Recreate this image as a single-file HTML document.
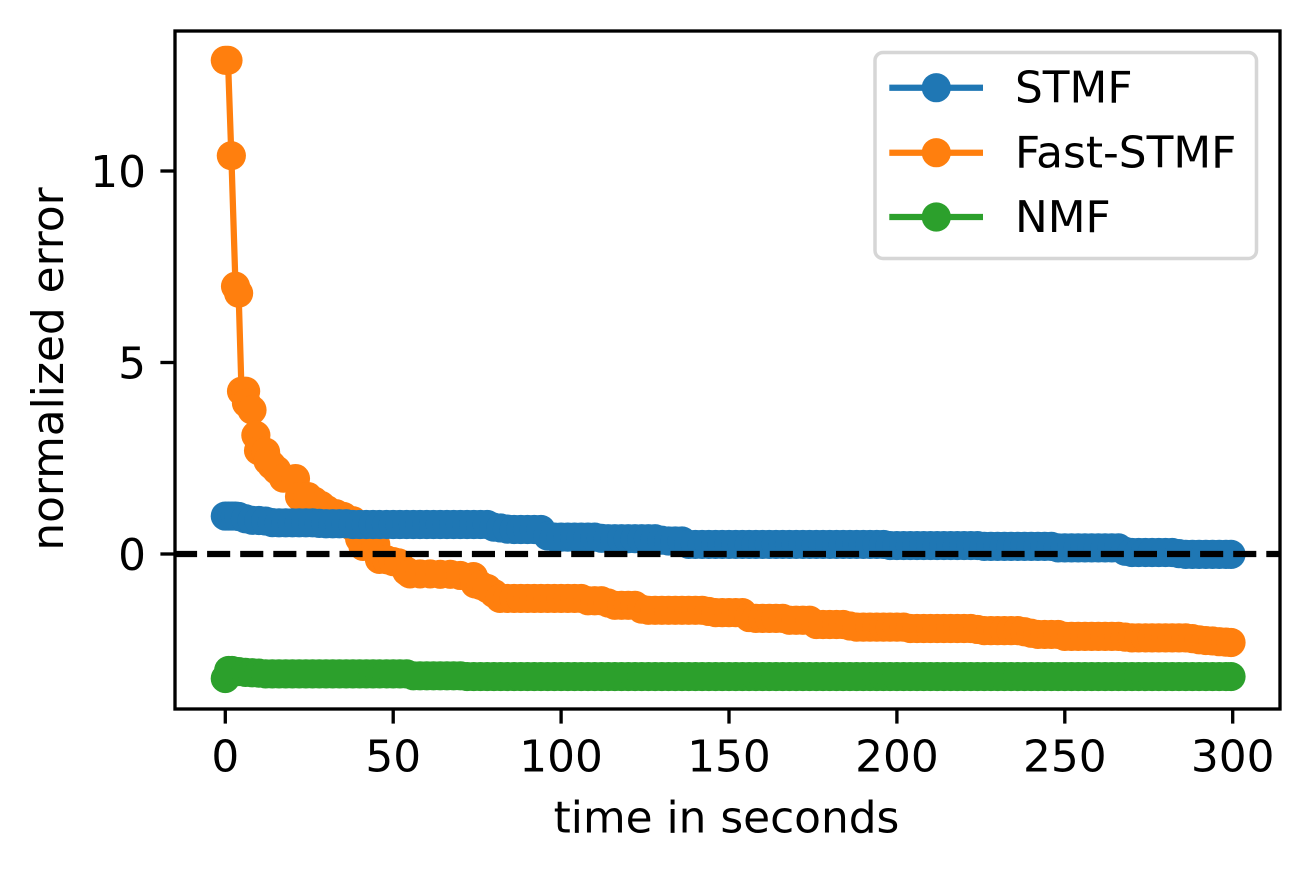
<!DOCTYPE html>
<html lang="en">
<head>
<meta charset="utf-8">
<title>Normalized error over time</title>
<style>
html,body{margin:0;padding:0;background:#fff;}
svg{display:block;}
text{font-family:"DejaVu Sans","Liberation Sans",sans-serif;font-size:43.8px;fill:#000;}
</style>
</head>
<body>
<svg id="chart" width="1308" height="871" viewBox="0 0 1308 871" xmlns="http://www.w3.org/2000/svg">
  <rect x="0" y="0" width="1308" height="871" fill="#ffffff"/>
  <g id="marks"></g>
  <line id="zero-line" stroke="#000" stroke-width="6.25" stroke-dasharray="23.1 10"/>
  <rect x="175" y="31" width="1105" height="678" fill="none" stroke="#000" stroke-width="3.33"/>
  <g id="ticks"></g>
  <text x="726.5" y="832.3" text-anchor="middle">time in seconds</text>
  <text transform="translate(63 369) rotate(-90)" text-anchor="middle">normalized error</text>
  <g>
    <rect x="875" y="52.5" width="381.5" height="206" rx="8" ry="8" fill="#fff" fill-opacity="0.8" stroke="#d6d6d6" stroke-width="3.5"/>
    <g>
      <line x1="889.3" x2="983" y1="87.7" y2="87.7" stroke="#1f77b4" stroke-width="6.25"/>
      <circle cx="936.3" cy="87.7" r="14.6" fill="#1f77b4"/>
      <text x="1015" y="102.7">STMF</text>
    </g>
    <g>
      <line x1="889.3" x2="983" y1="152.7" y2="152.7" stroke="#ff7f0e" stroke-width="6.25"/>
      <circle cx="936.3" cy="152.7" r="14.6" fill="#ff7f0e"/>
      <text x="1015" y="167.3">Fast-STMF</text>
    </g>
    <g>
      <line x1="889.3" x2="983" y1="217" y2="217" stroke="#2ca02c" stroke-width="6.25"/>
      <circle cx="936.3" cy="217" r="14.6" fill="#2ca02c"/>
      <text x="1015" y="232">NMF</text>
    </g>
  </g>
</svg>
<script>
const xTickValues = [0, 50, 100, 150, 200, 250, 300];
const yTickValues = [0, 5, 10];
const referenceValue = 0;

const gridTimes = [4,6,8,10,12,14,16,18,20,22,24,26,28,30,32,34,36,38,40,42,44,46,48,50,52,54,56,58,60,62,64,66,68,70,72,74,76,78,80,82,84,86,88,90,92,94,96,98,100,102,104,106,108,110,112,114,116,118,120,122,124,126,128,130,132,134,136,138,140,142,144,146,148,150,152,154,156,158,160,162,164,166,168,170,172,174,176,178,180,182,184,186,188,190,192,194,196,198,200,202,204,206,208,210,212,214,216,218,220,222,224,226,228,230,232,234,236,238,240,242,244,246,248,250,252,254,256,258,260,262,264,266,268,270,272,274,276,278,280,282,284,286,288,290,292,294,296,298,299.5];

const stmfStartTimes = [0,1,2,3];
const stmfStartValues = [0.99,0.99,0.99,0.99];
const stmfValues = [0.98,0.92,0.88,0.875,0.86,0.82,
0.815,0.815,0.815,0.815,0.815,0.815,0.80,0.79,0.79,0.79,0.79,
0.77,0.77,0.77,0.77,0.77,0.77,0.77,0.77,0.77,0.77,0.77,0.77,0.77,0.77,0.77,0.77,0.77,0.77,0.77,0.77,0.77,
0.70,0.68,0.65,0.64,0.64,0.64,0.64,0.64,0.47,
0.44,0.44,0.44,0.44,0.44,0.44,0.44,0.41,
0.40,0.40,0.40,0.40,0.40,0.40,0.40,0.40,0.36,0.34,0.34,0.34,
0.25,0.25,0.25,0.25,0.25,0.25,0.25,0.25,0.25,0.25,0.25,0.25,0.25,0.25,0.25,0.25,0.25,0.25,0.25,0.25,0.25,0.25,0.25,0.25,0.25,0.25,0.25,0.25,0.25,0.25,
0.22,0.22,0.22,0.22,0.22,0.22,0.22,0.22,0.22,0.22,0.22,0.22,0.22,0.22,
0.20,0.20,0.20,0.20,0.20,0.20,0.20,0.20,0.20,0.20,0.20,
0.16,0.16,0.16,0.16,0.16,0.16,0.16,0.16,0.16,0.16,
0.07,0.04,0.04,0.04,0.04,0.04,0.04,0.04,0.01,
-0.01,-0.01,-0.01,-0.01,-0.01,-0.01,-0.01,-0.01];

const fastStartTimes = [0,0.8,1.8,3.04,3.96,4.83,6.05,6.3,7.95,9.1,9.9,12,12.7,13.8,15.3,17.3,20.9,22.1,24.6,26.5,28.5,30.2,33,35.2,38,38.3,40,41,44.8,45.9,48,50,51.6,54,55,58,61,64,67,70,73.9,74.4,76,78,80,81.8];
const fastStartValues = [12.89,12.89,10.4,6.99,6.81,4.25,4.25,3.94,3.76,3.1,2.7,2.66,2.43,2.32,2.19,1.98,1.97,1.5,1.5,1.38,1.27,1.16,1.05,0.98,0.87,0.68,0.4,0.2,0.25,-0.14,-0.15,-0.2,-0.23,-0.45,-0.52,-0.52,-0.52,-0.53,-0.53,-0.56,-0.59,-0.78,-0.82,-0.9,-1.03,-1.16];
const fastValues = [-1.16,-1.16,-1.16,-1.16,-1.16,-1.16,-1.16,-1.16,-1.16,-1.16,-1.16,-1.16,
-1.22,-1.22,-1.22,-1.28,-1.34,-1.34,-1.34,-1.34,-1.44,
-1.47,-1.47,-1.47,-1.47,-1.47,-1.47,-1.47,-1.47,-1.47,-1.5,
-1.53,-1.53,-1.53,-1.53,-1.53,-1.66,-1.68,-1.68,-1.68,-1.68,-1.68,
-1.73,-1.73,-1.73,-1.73,-1.84,-1.84,-1.84,-1.84,-1.84,-1.88,
-1.91,-1.91,-1.91,-1.91,-1.91,-1.91,-1.91,-1.91,
-1.945,-1.945,-1.945,-1.945,-1.945,-1.945,-1.945,-1.945,-1.945,-1.945,-1.97,
-2,-2,-2,-2,-2,-2,-2.03,-2.07,-2.1,-2.1,-2.1,-2.1,
-2.15,-2.15,-2.15,-2.15,-2.15,-2.15,-2.15,-2.15,-2.15,-2.17,
-2.19,-2.19,-2.19,-2.19,-2.19,-2.19,-2.19,-2.19,-2.19,
-2.21,-2.24,-2.26,-2.27,-2.29,-2.30,-2.31];

const nmfStartTimes = [0,1,2];
const nmfStartValues = [-3.25,-3.04,-3.04];
const nmfValues = [-3.07,-3.09,-3.1,-3.11,
-3.13,-3.13,-3.13,-3.13,-3.13,-3.13,-3.13,-3.13,-3.13,-3.13,-3.13,-3.13,-3.13,-3.13,-3.13,-3.13,-3.13,-3.13,-3.13,-3.13,-3.13,-3.13,
-3.18,-3.18,-3.18,-3.18,-3.18,-3.18,-3.18,-3.18,
-3.2,-3.2,-3.2,-3.2,-3.2,-3.2,-3.2,-3.2,-3.2,-3.2,
-3.2,-3.2,-3.2,-3.2,-3.2,-3.2,-3.2,-3.2,-3.2,-3.2,
-3.2,-3.2,-3.2,-3.2,-3.2,-3.2,-3.2,-3.2,-3.2,-3.2,
-3.2,-3.2,-3.2,-3.2,-3.2,-3.2,-3.2,-3.2,-3.2,-3.2,
-3.2,-3.2,-3.2,-3.2,-3.2,-3.2,-3.2,-3.2,-3.2,-3.2,
-3.2,-3.2,-3.2,-3.2,-3.2,-3.2,-3.2,-3.2,-3.2,-3.2,
-3.2,-3.2,-3.2,-3.2,-3.2,-3.2,-3.2,-3.2,-3.2,-3.2,
-3.2,-3.2,-3.2,-3.2,-3.2,-3.2,-3.2,-3.2,-3.2,-3.2,
-3.2,-3.2,-3.2,-3.2,-3.2,-3.2,-3.2,-3.2,-3.2,-3.2,
-3.2,-3.2,-3.2,-3.2,-3.2,-3.2,-3.2,-3.2,-3.2,-3.2,
-3.2,-3.2,-3.2,-3.2,-3.2,-3.2,-3.2,-3.2,-3.2,-3.2,
-3.2,-3.2,-3.2,-3.2,
-3.2];

const NS = 'http://www.w3.org/2000/svg';
const xScale = function (t) { return 225.3 + 3.358 * t; };
const yScale = function (v) { return 554 - 38.3 * v; };

const marksLayer = document.getElementById('marks');
const ticksLayer = document.getElementById('ticks');

function drawSeries(key, color, times, values) {
  const group = document.createElementNS(NS, 'g');
  
  
  const line = document.createElementNS(NS, 'polyline');
  
  
  line.setAttribute('points', times.map(function (t, i) { return xScale(t).toFixed(2) + ',' + yScale(values[i]).toFixed(2); }).join(' '));
  line.setAttribute('fill', 'none');
  line.setAttribute('stroke', color);
  line.setAttribute('stroke-width', '6.25');
  line.setAttribute('stroke-linejoin', 'round');
  group.appendChild(line);
  times.forEach(function (t, i) {
    const dot = document.createElementNS(NS, 'circle');
    
    
    dot.setAttribute('cx', xScale(t).toFixed(2));
    dot.setAttribute('cy', yScale(values[i]).toFixed(2));
    dot.setAttribute('r', '14.6');
    dot.setAttribute('fill', color);
    group.appendChild(dot);
  });
  marksLayer.appendChild(group);
}

const fastTimesAll = fastStartTimes.concat(gridTimes.filter(function (t) { return t >= 84; }));
drawSeries('fast-stmf', '#ff7f0e', fastTimesAll, fastStartValues.concat(fastValues));
drawSeries('stmf', '#1f77b4', stmfStartTimes.concat(gridTimes), stmfStartValues.concat(stmfValues));
drawSeries('nmf', '#2ca02c', nmfStartTimes.concat(gridTimes), nmfStartValues.concat(nmfValues));

const zero = document.getElementById('zero-line');
zero.setAttribute('x1', '174');
zero.setAttribute('x2', '1280');
zero.setAttribute('y1', yScale(referenceValue));
zero.setAttribute('y2', yScale(referenceValue));

xTickValues.forEach(function (v) {
  const mark = document.createElementNS(NS, 'line');
  
  
  mark.setAttribute('x1', xScale(v));
  mark.setAttribute('x2', xScale(v));
  mark.setAttribute('y1', '709');
  mark.setAttribute('y2', '723.6');
  mark.setAttribute('stroke', '#000');
  mark.setAttribute('stroke-width', '3.33');
  ticksLayer.appendChild(mark);
  const label = document.createElementNS(NS, 'text');
  
  
  label.setAttribute('x', xScale(v));
  label.setAttribute('y', '771.5');
  label.setAttribute('text-anchor', 'middle');
  label.textContent = String(v);
  ticksLayer.appendChild(label);
});

yTickValues.forEach(function (v) {
  const mark = document.createElementNS(NS, 'line');
  
  
  mark.setAttribute('x1', '160.4');
  mark.setAttribute('x2', '175');
  mark.setAttribute('y1', yScale(v));
  mark.setAttribute('y2', yScale(v));
  mark.setAttribute('stroke', '#000');
  mark.setAttribute('stroke-width', '3.33');
  ticksLayer.appendChild(mark);
  const label = document.createElementNS(NS, 'text');
  
  
  label.setAttribute('x', '146');
  label.setAttribute('y', yScale(v) + 16);
  label.setAttribute('text-anchor', 'end');
  label.textContent = String(v);
  ticksLayer.appendChild(label);
});
</script>
</body>
</html>
